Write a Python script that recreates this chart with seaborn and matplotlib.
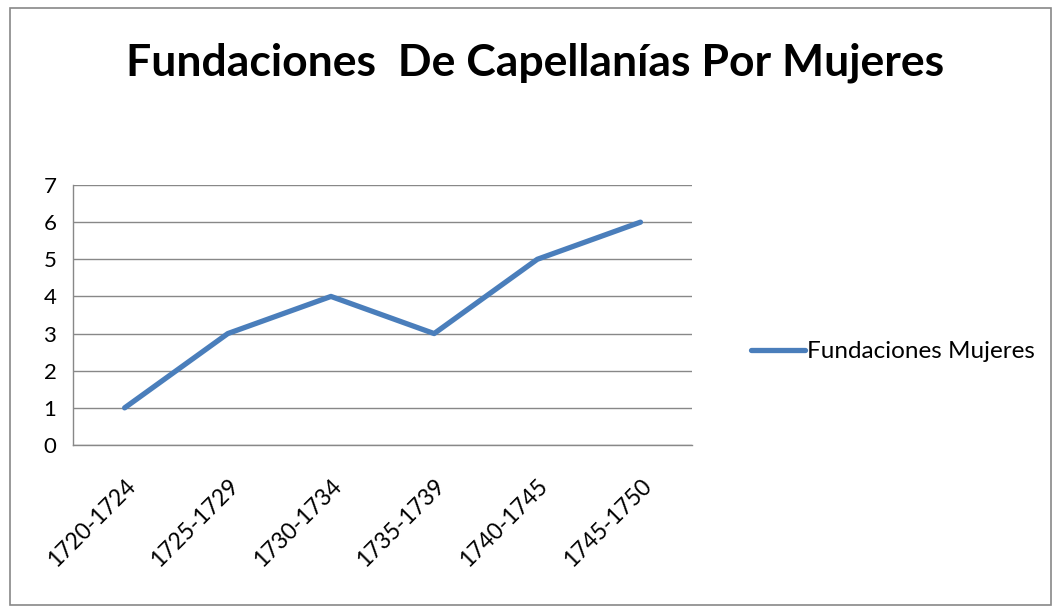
"""
Line chart: fundaciones de capellanías por mujeres
"""

import pandas as pd
import seaborn as sns
import matplotlib.pyplot as plt
from matplotlib.patches import Rectangle

periods = ["1720-1724", "1725-1729", "1730-1734", "1735-1739", "1740-1745", "1745-1750"]
fundaciones = [1, 3, 4, 3, 5, 6]
series_name = "Fundaciones Mujeres"

df = pd.DataFrame({"Periodo": periods, "Fundaciones": fundaciones})

sns.set_style("white")
plt.rcParams["font.family"] = ["Lato", "DejaVu Sans"]
plt.rcParams["text.color"] = "black"
plt.rcParams["xtick.labelcolor"] = "black"
plt.rcParams["ytick.labelcolor"] = "black"

grid_col = "#888888"

fig = plt.figure(figsize=(10.54, 6.07), dpi=100)
ax = fig.add_axes([0.0693, 0.2669, 0.5873, 0.4283])

sns.lineplot(data=df, x="Periodo", y="Fundaciones", color="#4A7EBB",
             linewidth=3.8, label=series_name, ax=ax)

n = len(periods)
ax.set_xlim(-0.5, n - 0.5)
ax.set_ylim(0, 7)
ax.set_yticks(range(0, 8))
ax.set_xticks(range(n))
ax.set_xticklabels(periods, rotation=45, ha="right", rotation_mode="anchor")
ax.set_xticks([i - 0.5 for i in range(n + 1)], minor=True)
ax.tick_params(axis="x", which="major", length=0, labelsize=16.5, pad=22)
ax.tick_params(axis="x", which="minor", length=8, width=1, color=grid_col, direction="out")
ax.tick_params(axis="y", length=8, width=1, color=grid_col, direction="out", labelsize=16, pad=4)
ax.set_xlabel("")
ax.set_ylabel("")

ax.grid(axis="y", color=grid_col, linewidth=1)
ax.grid(axis="x", visible=False)
for side in ["top", "right"]:
    ax.spines[side].set_visible(False)
for side in ["left", "bottom"]:
    ax.spines[side].set_color(grid_col)
    ax.spines[side].set_linewidth(1)

leg = ax.legend(loc="center left", bbox_to_anchor=(1.06, 0.358), frameon=False,
                fontsize=17.5, handlelength=2.2, handletextpad=0.1)

fig.suptitle("Fundaciones  De Capellanías Por Mujeres", x=0.508, y=0.876,
             va="baseline", fontsize=32, fontweight="bold", color="black")

# outer chart border
fig.patches.append(Rectangle((0.0095, 0.003), 0.988, 0.984, transform=fig.transFigure,
                             fill=False, edgecolor=grid_col, linewidth=1.2))

fig.savefig("out.png", dpi=100)
